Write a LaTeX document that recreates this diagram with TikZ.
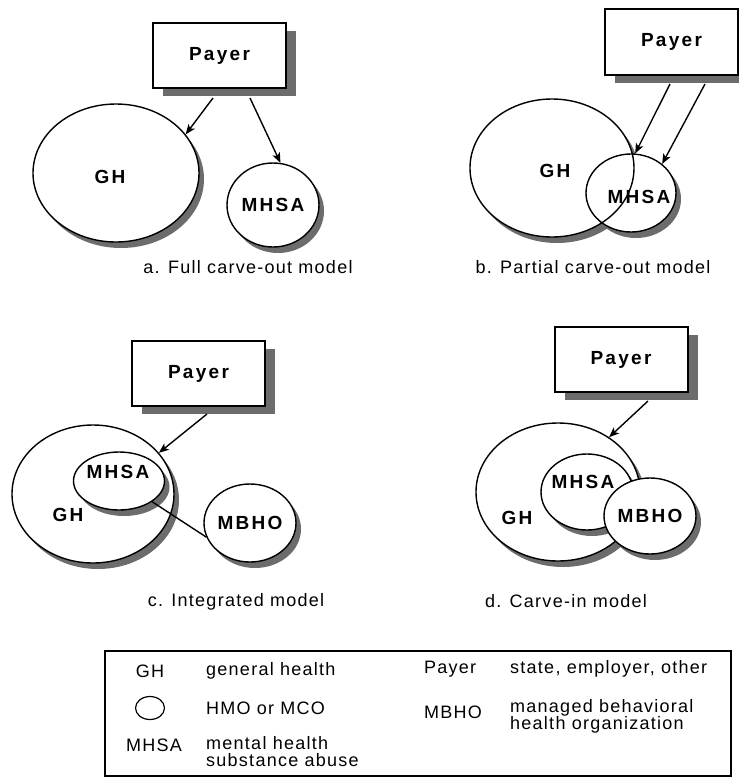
\documentclass[tikz,border=0pt]{standalone}
\usepackage{fontspec}
\setmainfont{Liberation Sans}
\newfontfamily\capfont{Liberation Sans}[LetterSpace=7]
\newfontfamily\tagfont{Liberation Sans}[LetterSpace=12]
\usetikzlibrary{shapes.geometric, shadows, arrows.meta}
\definecolor{shade}{RGB}{108,108,108}

\begin{document}
\begin{tikzpicture}[x=1pt, y=-1pt]
	\tikzset{
		payer/.style={draw, line width=2pt, fill=white, minimum width=133pt, minimum height=65pt, inner sep=0pt,
			font=\tagfont\bfseries\fontsize{19}{22}\selectfont,
			drop shadow={shadow xshift=10pt, shadow yshift=-8pt, fill=shade, opacity=1}},
		org/.style={ellipse, draw, line width=1.4pt, fill=white, inner sep=0pt,
			font=\tagfont\bfseries\fontsize{19}{22}\selectfont,
			drop shadow={shadow xshift=5pt, shadow yshift=-6pt, fill=shade, opacity=1}},
		rim/.style={ellipse, draw, line width=1.4pt, inner sep=0pt},
		tag/.style={font=\tagfont\bfseries\fontsize{19}{22}\selectfont, inner sep=0pt},
		caption/.style={font=\capfont\fontsize{18}{19}\selectfont},
		key/.style={font=\capfont\fontsize{18}{17}\selectfont, align=left, inner sep=0pt},
		feed/.style={line width=1.4pt, -{Stealth[length=10pt, width=8pt, inset=2.5pt]}},
	}
	\useasboundingbox (0,0) rectangle (739,777);

	% a. full carve-out
	\node[payer] (payA) at (219.5,55.5) {Payer};
	\node[org, minimum width=166pt, minimum height=138pt] (ghA) at (116,173) {};
	\node[tag] (ghAtag) at (110,177) {GH};
	\node[org, minimum width=92pt, minimum height=84pt] (mhsaA) at (273,205) {MHSA};
	\draw[feed] ([xshift=-6.5pt, yshift=-9pt]payA.south) -- (ghA.29);
	\draw[feed] ([xshift=30.5pt, yshift=-9pt]payA.south) -- (mhsaA.80);
	\node[caption] (capA) at (248,267) {a. Full carve-out model};

	% b. partial carve-out
	\node[payer, minimum height=66pt] (payB) at (671.5,42) {Payer};
	\node[org, draw=none, minimum width=164pt, minimum height=138pt] (ghB) at (552,168) {};
	\node[org, draw=none, minimum width=90pt, minimum height=78pt] (mhsaB) at (631,193) {};
	\node[rim, minimum width=164pt, minimum height=138pt] (ghBrim) at (ghB) {};
	\node[rim, minimum width=90pt, minimum height=78pt] (mhsaBrim) at (mhsaB) {};
	\node[tag] (ghBtag) at (555,171) {GH};
	\node[tag] (mhsaBtag) at (639,197) {MHSA};
	\draw[feed] ([xshift=-1.5pt, yshift=-8pt]payB.south) -- (mhsaB.84);
	\draw[feed] ([xshift=33.5pt, yshift=-8pt]payB.south) -- (mhsaB.43);
	\node[caption] (capB) at (593,267) {b. Partial carve-out model};

	% c. integrated
	\node[payer] (payC) at (198.5,373.5) {Payer};
	\node[org, minimum width=162pt, minimum height=138pt] (ghC) at (93,494) {};
	\node[org, minimum width=91pt, minimum height=58pt] (mhsaC) at (119,481) {};
	\node[tag] (ghCtag) at (68,515) {GH};
	\node[tag] (mhsaCtag) at (118,472) {MHSA};
	\node[org, minimum width=92pt, minimum height=78pt] (mbhoC) at (250,523) {MBHO};
	\draw[feed] ([xshift=8.5pt, yshift=-7pt]payC.south) -- (ghC.32);
	\draw[line width=1.4pt] (mhsaC.-32) -- (mbhoC.198);
	\node[caption] (capC) at (236,602) {c. Integrated model};

	% d. carve-in
	\node[payer] (payD) at (621,359.5) {Payer};
	\node[org, minimum width=164pt, minimum height=138pt] (ghD) at (558,492) {};
	\node[tag] (ghDtag) at (517,518) {GH};
	\node[org, minimum width=92pt, minimum height=76pt] (mhsaD) at (587,492) {};
	\node[tag] (mhsaDtag) at (583,482) {MHSA};
	\node[org, minimum width=92pt, minimum height=76pt] (mbhoD) at (650,516) {MBHO};
	\draw[feed] ([xshift=27pt, yshift=-8pt]payD.south) -- (ghD.47);
	\node[caption] (capD) at (566,601) {d. Carve-in model};

	% key
	\node[draw, line width=2pt, minimum width=626pt, minimum height=125pt, inner sep=0pt] (key) at (418,713.5) {};
	\node[key] (kGH) at (150,671) {GH};
	\node[ellipse, draw, line width=1.2pt, minimum width=29pt, minimum height=23pt] (kOrg) at (150,708) {};
	\node[key] (kMHSA) at (154,745) {MHSA};
	\node[key, anchor=west] (kGHtxt) at (206,671) {general health};
	\node[key, anchor=west] (kOrgtxt) at (206,708) {HMO or MCO};
	\node[key, anchor=west] (kMHSAtxt) at (206,752) {mental health\\substance abuse};
	\node[key, anchor=west] (kPay) at (424,669) {Payer};
	\node[key, anchor=west] (kPaytxt) at (510,669) {state, employer, other};
	\node[key, anchor=west] (kMBHO) at (424,712) {MBHO};
	\node[key, anchor=west] (kMBHOtxt) at (510,716) {managed behavioral\\health organization};
\end{tikzpicture}
\end{document}
